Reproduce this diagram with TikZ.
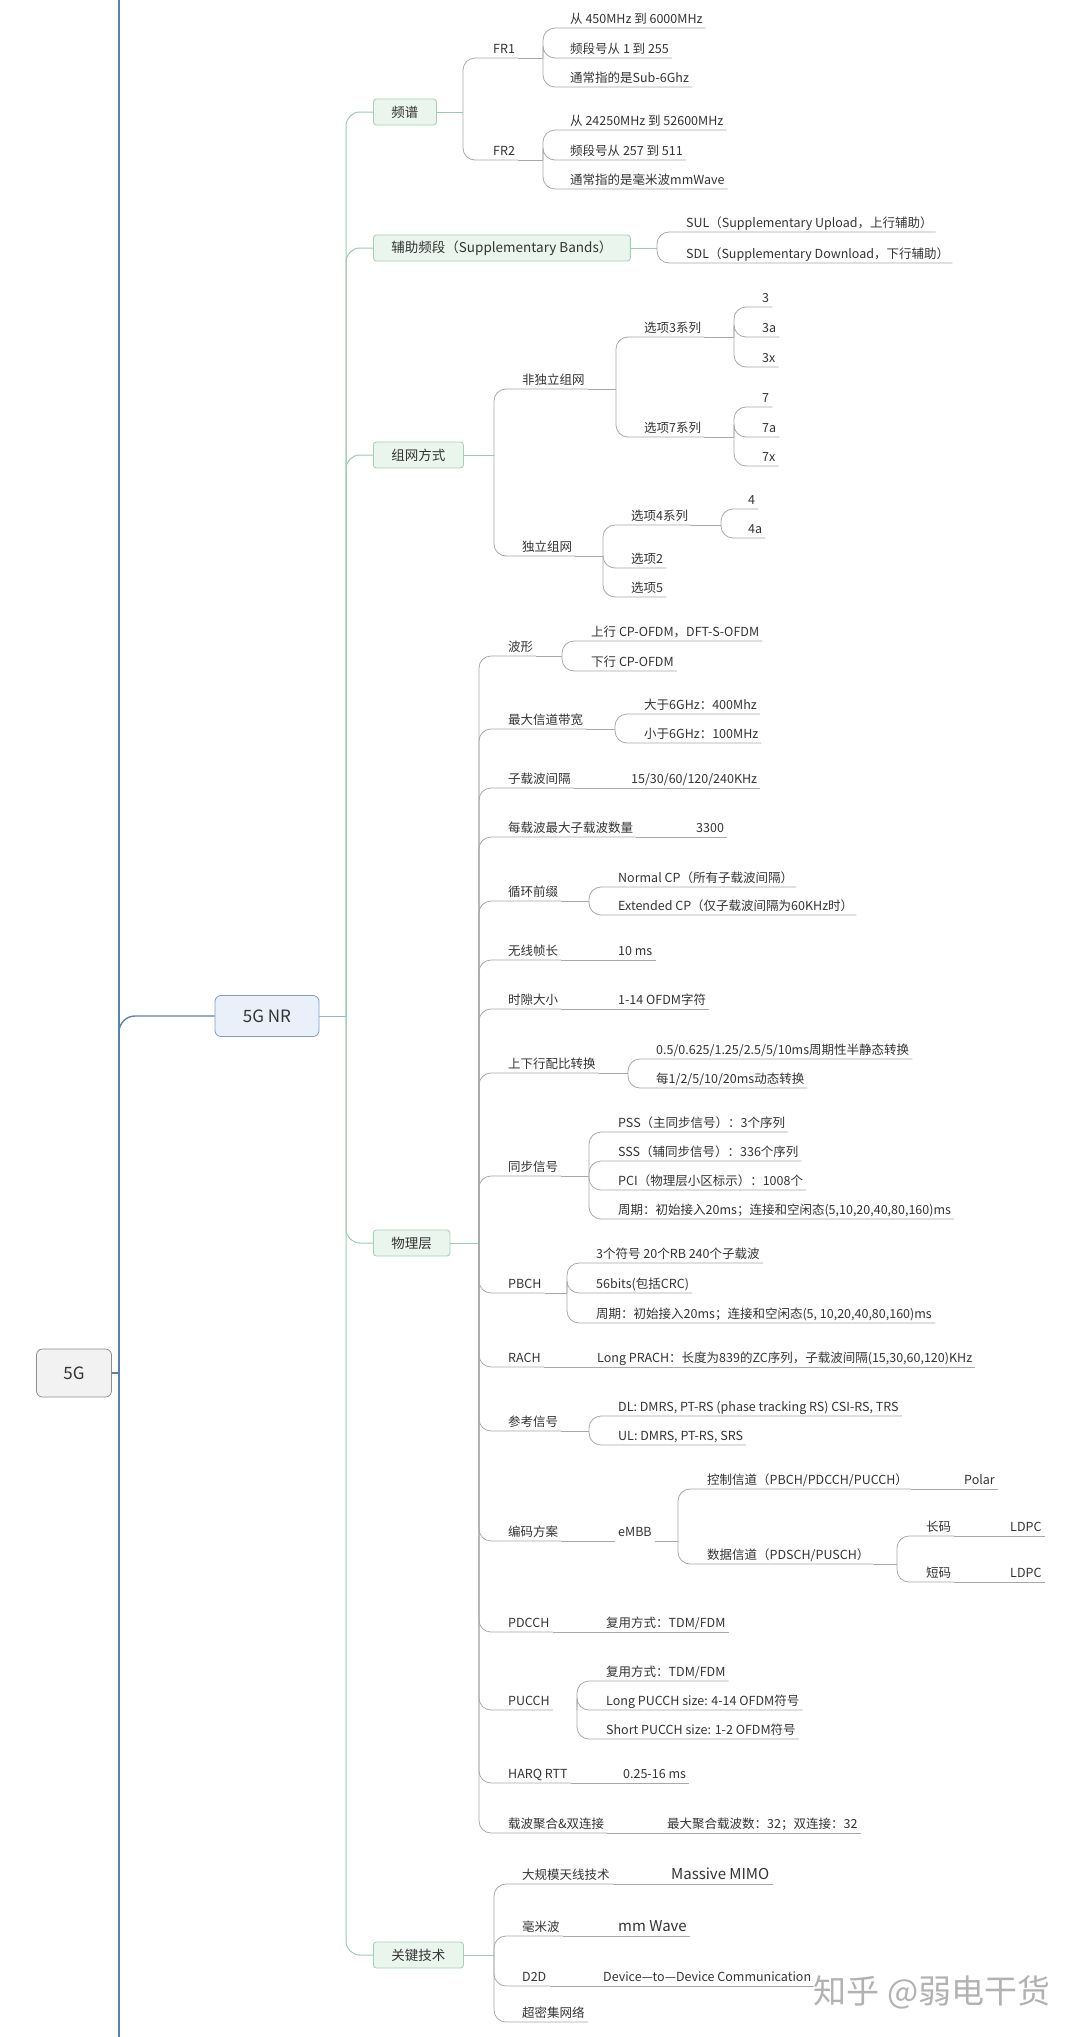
\documentclass[tikz,border=0pt]{standalone}
\usepackage{fontspec}
\setmainfont{Noto Sans CJK SC}
\usepackage{tikz}
\definecolor{trunkblue}{HTML}{5B80AA}
\definecolor{nrline}{HTML}{9DB3C8}
\definecolor{catline}{HTML}{9CCBB0}
\definecolor{subline}{HTML}{A8A8A8}
\definecolor{catfill}{HTML}{EAF5EE}
\definecolor{catdraw}{HTML}{A3D0B5}
\definecolor{nrfill}{HTML}{E9F0F9}
\definecolor{nrdraw}{HTML}{7F9DC4}
\definecolor{rootfill}{HTML}{F2F2F2}
\definecolor{rootdraw}{HTML}{8C8C8C}
\definecolor{txt}{HTML}{333333}

\begin{document}
\begin{tikzpicture}[x=1pt, y=-1pt,
  every node/.style={text=txt},
  rootbox/.style={draw=rootdraw, fill=rootfill, rounded corners=6pt, line width=0.8pt, minimum width=75pt, minimum height=48pt, font=\fontsize{17}{20}\selectfont},
  nrbox/.style={draw=nrdraw, fill=nrfill, rounded corners=6pt, line width=0.8pt, minimum width=104pt, minimum height=41pt, font=\fontsize{17}{20}\selectfont},
  catbox/.style={anchor=west, draw=catdraw, fill=catfill, rounded corners=3pt, line width=0.8pt, inner xsep=18pt, minimum height=26pt, font=\fontsize{13.5}{16}\selectfont},
  topic/.style={anchor=south west, inner xsep=3pt, inner ysep=1.5pt, text height=9pt, text depth=2.5pt, font=\fontsize{12.5}{15}\selectfont},
  bigtopic/.style={topic, text height=10.5pt, font=\fontsize{15}{17}\selectfont},
  trunk/.style={draw=trunkblue, line width=1.4pt},
  nrlink/.style={draw=nrline, line width=1pt},
  catlink/.style={draw=catline, line width=1pt, rounded corners=14pt},
  sublink/.style={draw=subline, line width=0.8pt, rounded corners=12pt}
]
\useasboundingbox (0,0) rectangle (1080,2037);

% root and 5G NR
\node[rootbox] (g) at (74,1373) {5G};
\node[nrbox] (nr) at (267,1016) {5G NR};
\coordinate (top) at (119,0);
\coordinate (bot) at (119,2037);
\coordinate (g-j) at (119,1373);
\coordinate (nr-j) at (346,1016);

% main branches
\node[catbox] (spec) at (373,112) {频谱};
\node[catbox] (supp) at (373,248) {辅助频段（Supplementary Bands）};
\node[catbox] (net) at (373,455) {组网方式};
\node[catbox] (phy) at (373,1243) {物理层};
\node[catbox] (key) at (373,1955) {关键技术};
\coordinate (spec-j) at (463,112);
\coordinate (supp-j) at (657,248);
\coordinate (net-j) at (494,455);
\coordinate (phy-j) at (479,1243);
\coordinate (key-j) at (494,1955);

% 频谱
\node[topic] (fr1) at (490,58) {FR1};
\node[topic] (fr2) at (490,160) {FR2};
\coordinate (fr1-j) at (543,58);
\coordinate (fr2-j) at (543,160);
\node[topic] (fr1a) at (567,28) {从 450MHz 到 6000MHz};
\node[topic] (fr1b) at (567,58) {频段号从 1 到 255};
\node[topic] (fr1c) at (567,87) {通常指的是Sub-6Ghz};
\node[topic] (fr2a) at (567,130) {从 24250MHz 到 52600MHz};
\node[topic] (fr2b) at (567,160) {频段号从 257 到 511};
\node[topic] (fr2c) at (567,189) {通常指的是毫米波mmWave};

% 辅助频段
\node[topic] (sul) at (683,232) {SUL（Supplementary Upload，上行辅助）};
\node[topic] (sdl) at (683,263) {SDL（Supplementary Download，下行辅助）};

% 组网方式
\node[topic] (nsa) at (519,389) {非独立组网};
\node[topic] (sa) at (519,556) {独立组网};
\coordinate (nsa-j) at (616,389);
\coordinate (sa-j) at (603,556);
\node[topic] (opt3) at (641,337) {选项3系列};
\node[topic] (opt7) at (641,437) {选项7系列};
\coordinate (opt3-j) at (734,337);
\coordinate (opt7-j) at (734,437);
\node[topic] (o3) at (759,307) {3};
\node[topic] (o3a) at (759,337) {3a};
\node[topic] (o3x) at (759,367) {3x};
\node[topic] (o7) at (759,407) {7};
\node[topic] (o7a) at (759,437) {7a};
\node[topic] (o7x) at (759,466) {7x};
\node[topic] (opt4) at (628,525) {选项4系列};
\node[topic] (opt2) at (628,568) {选项2};
\node[topic] (opt5) at (628,597) {选项5};
\coordinate (opt4-j) at (721,525);
\node[topic] (o4) at (745,509) {4};
\node[topic] (o4a) at (745,538) {4a};

% 物理层
\node[topic] (wave) at (505,656) {波形};
\coordinate (wave-j) at (562,656);
\node[topic] (wul) at (588,641) {上行 CP-OFDM，DFT-S-OFDM};
\node[topic] (wdl) at (588,671) {下行 CP-OFDM};
\node[topic] (bw) at (505,729) {最大信道带宽};
\coordinate (bw-j) at (615,729);
\node[topic] (bwh) at (641,714) {大于6GHz：400Mhz};
\node[topic] (bwl) at (641,743) {小于6GHz：100MHz};
\node[topic] (scs) at (505,788) {子载波间隔};
\node[topic] (scsv) at (628,788) {15/30/60/120/240KHz};
\node[topic] (nsc) at (505,837) {每载波最大子载波数量};
\node[topic] (nscv) at (693,837) {3300};
\node[topic] (cp) at (505,901) {循环前缀};
\coordinate (cp-j) at (589,901);
\node[topic] (cpn) at (615,887) {Normal CP（所有子载波间隔）};
\node[topic] (cpe) at (615,915) {Extended CP（仅子载波间隔为60KHz时）};
\node[topic] (frm) at (505,960) {无线帧长};
\node[topic] (frmv) at (615,960) {10 ms};
\node[topic] (slot) at (505,1009) {时隙大小};
\node[topic] (slotv) at (615,1009) {1-14 OFDM字符};
\node[topic] (tdd) at (505,1073) {上下行配比转换};
\coordinate (tdd-j) at (628,1073);
\node[topic] (tdda) at (653,1059) {0.5/0.625/1.25/2.5/5/10ms周期性半静态转换};
\node[topic] (tddb) at (653,1088) {每1/2/5/10/20ms动态转换};
\node[topic] (sync) at (505,1176) {同步信号};
\coordinate (sync-j) at (589,1176);
\node[topic] (pss) at (615,1132) {PSS（主同步信号）：3个序列};
\node[topic] (sss) at (615,1161) {SSS（辅同步信号）：336个序列};
\node[topic] (pci) at (615,1190) {PCI（物理层小区标示）：1008个};
\node[topic] (sper) at (615,1219) {周期：初始接入20ms；连接和空闲态(5,10,20,40,80,160)ms};
\node[topic] (pbch) at (505,1293) {PBCH};
\coordinate (pbch-j) at (567,1293);
\node[topic] (pba) at (593,1263) {3个符号 20个RB 240个子载波};
\node[topic] (pbb) at (593,1293) {56bits(包括CRC)};
\node[topic] (pbc) at (593,1323) {周期：初始接入20ms；连接和空闲态(5, 10,20,40,80,160)ms};
\node[topic] (rach) at (505,1367) {RACH};
\node[topic] (rachv) at (594,1367) {Long PRACH：长度为839的ZC序列，子载波间隔(15,30,60,120)KHz};
\node[topic] (refs) at (505,1431) {参考信号};
\coordinate (refs-j) at (589,1431);
\node[topic] (rdl) at (615,1416) {DL: DMRS, PT-RS (phase tracking RS) CSI-RS, TRS};
\node[topic] (rul) at (615,1445) {UL: DMRS, PT-RS, SRS};
\node[topic] (code) at (505,1541) {编码方案};
\node[topic] (embb) at (615,1541) {eMBB};
\coordinate (embb-j) at (678,1541);
\node[topic] (ctrl) at (704,1489) {控制信道（PBCH/PDCCH/PUCCH）};
\node[topic] (polar) at (961,1489) {Polar};
\node[topic] (data) at (704,1564) {数据信道（PDSCH/PUSCH）};
\coordinate (data-j) at (897,1564);
\node[topic] (long) at (923,1536) {长码};
\node[topic] (ldpca) at (1007,1536) {LDPC};
\node[topic] (short) at (923,1582) {短码};
\node[topic] (ldpcb) at (1007,1582) {LDPC};
\node[topic] (pdcch) at (505,1632) {PDCCH};
\node[topic] (pdcchv) at (603,1632) {复用方式：TDM/FDM};
\node[topic] (pucch) at (505,1710) {PUCCH};
\coordinate (pucch-j) at (577,1710);
\node[topic] (puca) at (603,1681) {复用方式：TDM/FDM};
\node[topic] (pucb) at (603,1710) {Long PUCCH size: 4-14 OFDM符号};
\node[topic] (pucc) at (603,1739) {Short PUCCH size: 1-2 OFDM符号};
\node[topic] (harq) at (505,1783) {HARQ RTT};
\node[topic] (harqv) at (620,1783) {0.25-16 ms};
\node[topic] (ca) at (505,1833) {载波聚合\&双连接};
\node[topic] (cav) at (664,1833) {最大聚合载波数：32；双连接：32};

% 关键技术
\node[topic] (mimo) at (519,1884) {大规模天线技术};
\node[bigtopic] (mimov) at (668,1884) {Massive MIMO};
\node[topic] (mmw) at (519,1936) {毫米波};
\node[bigtopic] (mmwv) at (615,1936) {mm Wave};
\node[topic] (d2d) at (519,1986) {D2D};
\node[topic] (d2dv) at (600,1986) {Device—to—Device Communication};
\node[topic] (udn) at (519,2022) {超密集网络};

\node[text=black!30, font=\fontsize{33}{36}\selectfont] (mark) at (932,1992) {知乎 @弱电干货};

% trunk lines
\draw[trunk] (top) -- (bot);
\draw[trunk] (g.east) -- (g-j);
\draw[trunk, rounded corners=16pt] (g-j) |- (nr.west);
\draw[nrlink] (nr.east) -- (nr-j);
\foreach \c in {spec,supp,net,phy,key}
  \draw[catlink] (nr-j) |- (\c.west);
\draw[catlink] (spec.east) -- (spec-j);
\draw[catlink] (supp.east) -- (supp-j);
\draw[catlink] (net.east) -- (net-j);
\draw[catlink] (phy.east) -- (phy-j);
\draw[catlink] (key.east) -- (key-j);

% junction -> children
\foreach \p/\c in {spec-j/fr1, spec-j/fr2, fr1-j/fr1a, fr1-j/fr1b, fr1-j/fr1c,
    fr2-j/fr2a, fr2-j/fr2b, fr2-j/fr2c, supp-j/sul, supp-j/sdl,
    net-j/nsa, net-j/sa, nsa-j/opt3, nsa-j/opt7, opt3-j/o3, opt3-j/o3a, opt3-j/o3x,
    opt7-j/o7, opt7-j/o7a, opt7-j/o7x, sa-j/opt4, sa-j/opt2, sa-j/opt5, opt4-j/o4, opt4-j/o4a,
    phy-j/wave, phy-j/bw, phy-j/scs, phy-j/nsc, phy-j/cp, phy-j/frm, phy-j/slot, phy-j/tdd,
    phy-j/sync, phy-j/pbch, phy-j/rach, phy-j/refs, phy-j/code, phy-j/pdcch, phy-j/pucch,
    phy-j/harq, phy-j/ca, wave-j/wul, wave-j/wdl, bw-j/bwh, bw-j/bwl, cp-j/cpn, cp-j/cpe,
    tdd-j/tdda, tdd-j/tddb, sync-j/pss, sync-j/sss, sync-j/pci, sync-j/sper,
    pbch-j/pba, pbch-j/pbb, pbch-j/pbc, refs-j/rdl, refs-j/rul, embb-j/ctrl, embb-j/data,
    data-j/long, data-j/short, pucch-j/puca, pucch-j/pucb, pucch-j/pucc,
    key-j/mimo, key-j/mmw, key-j/d2d, key-j/udn}
  \draw[sublink] (\p) |- (\c.south east);

% parent underline -> junction
\foreach \p in {fr1,fr2,nsa,sa,opt3,opt7,opt4,wave,bw,cp,tdd,sync,pbch,refs,embb,data}
  \draw[sublink] (\p.south east) -- (\p-j);
\draw[sublink] (code.south east) -- (embb.south west);

% single values on the same line
\foreach \a/\b in {scs/scsv, nsc/nscv, frm/frmv, slot/slotv, rach/rachv, pdcch/pdcchv,
    harq/harqv, ca/cav, ctrl/polar, long/ldpca, short/ldpcb, mimo/mimov, mmw/mmwv, d2d/d2dv}
  \draw[sublink] (\a.south east) -- (\b.south east);
\end{tikzpicture}
\end{document}
